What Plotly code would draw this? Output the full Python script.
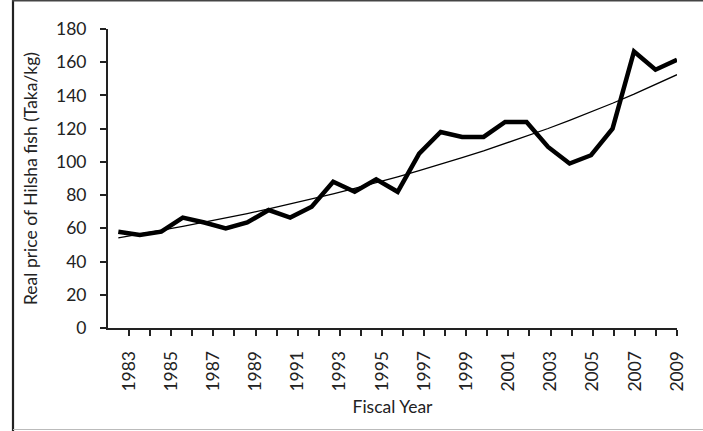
import plotly.graph_objects as go

years = list(range(1983, 2010))
price = [58, 56, 58, 66.5, 63.5, 60, 63.5, 71, 66.5, 73, 88, 82, 89.5, 82, 105,
         118, 115, 115, 124, 124, 109, 99, 104, 120, 166.5, 155.5, 161.5]
trend = [54.3, 56.5, 58.8, 61.2, 63.7, 66.2, 68.9, 71.7, 74.6, 77.6, 80.8, 84.0,
         87.4, 91.0, 94.7, 98.5, 102.5, 106.6, 111.0, 115.5, 120.1, 125.0, 130.1,
         135.3, 140.8, 146.5, 152.5]
tick_labels = [str(y) if (y - 1983) % 2 == 0 else "" for y in years]
y_ticks = list(range(0, 181, 20))

W, H = 703, 431
ML, MR, MT, MB = 108, 26, 29, 103
FONT = "Lato"
FS = 17.5

# data axis range and the (slightly shifted) category-tick scale of the original
data_range = [1982.52, 2009]
tick_range = [1982, 2009]
scale = (data_range[1] - data_range[0]) / (tick_range[1] - tick_range[0])
tick_pos = [data_range[0] + (y - tick_range[0]) * scale for y in years]

fig = go.Figure()
fig.add_trace(go.Scatter(x=years, y=trend, mode="lines",
                         line=dict(color="#000000", width=1.3), hoverinfo="skip",
                         showlegend=False))
fig.add_trace(go.Scatter(x=years, y=price, mode="lines",
                         line=dict(color="#000000", width=4.5), showlegend=False))

def px_x(p):
    return (p - ML) / (W - ML - MR)

def px_y(p):
    return 1 - (p - MT) / (H - MT - MB)

frame = "#222222"
shapes = [
    dict(type="line", xref="paper", yref="paper", x0=px_x(13), x1=px_x(13),
         y0=px_y(0), y1=px_y(431), line=dict(color=frame, width=2.2)),
    dict(type="line", xref="paper", yref="paper", x0=px_x(12), x1=px_x(703),
         y0=px_y(0.8), y1=px_y(0.8), line=dict(color="#444444", width=1.6)),
    dict(type="line", xref="paper", yref="paper", x0=px_x(13), x1=px_x(703),
         y0=px_y(429.5), y1=px_y(429.5), line=dict(color="#bbbbbb", width=1.2)),
]

fig.update_layout(
    width=W, height=H,
    margin=dict(l=ML, r=MR, t=MT, b=MB),
    paper_bgcolor="white", plot_bgcolor="white",
    font=dict(family=FONT, size=FS, color="#222222"),
    shapes=shapes,
    xaxis=dict(
        range=data_range, tickmode="array", tickvals=tick_pos, ticktext=tick_labels,
        tickangle=-90, ticks="outside", ticklen=6, tickwidth=2, tickcolor="#222222",
        showline=True, linewidth=2, linecolor="#222222", showgrid=False, zeroline=False,
        ticklabelstandoff=8,
        title=dict(text="Fiscal Year", standoff=10, font=dict(size=FS)),
        tickfont=dict(size=FS),
    ),
    yaxis=dict(
        range=[0, 180], tickmode="array", tickvals=y_ticks, ticks="outside", ticklen=6,
        tickwidth=1.5, tickcolor="#222222", showline=True, linewidth=2,
        linecolor="#222222", showgrid=False, zeroline=False, ticklabelstandoff=10,
        title=dict(text="Real price of Hilsha fish (Taka/kg)", standoff=14,
                   font=dict(size=FS)),
        tickfont=dict(size=FS),
    ),
)

fig.write_html("out.html")
